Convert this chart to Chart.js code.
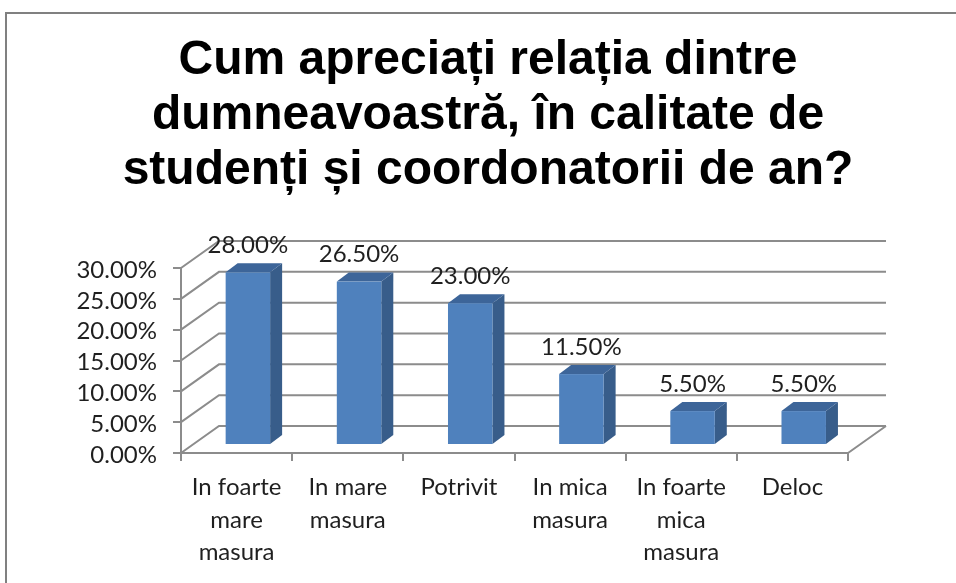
<!DOCTYPE html>
<html>
<head>
<meta charset="utf-8">
<script src="https://cdn.jsdelivr.net/npm/chart.js@4.4.1/dist/chart.umd.min.js"></script>
<style>
  html, body { margin: 0; padding: 0; background: #fff; }
  #wrap { width: 956px; height: 583px; }
</style>
</head>
<body>
<div id="wrap"><canvas id="chart"></canvas></div>
<script>
const titleLines = ['Cum apreciați relația dintre', 'dumneavoastră, în calitate de', 'studenți și coordonatorii de an?'];
const categories = [
  ['In foarte', 'mare', 'masura'],
  ['In mare', 'masura'],
  'Potrivit',
  ['In mica', 'masura'],
  ['In foarte', 'mica', 'masura'],
  'Deloc'
];
const values = [28.0, 26.5, 23.0, 11.5, 5.5, 5.5];
const yMin = 0, yMax = 30, yStep = 5;

const LINE = '#8c8c8c';
const TEXT = '#1f1f1f';
const FRONT = '#4f81bd', SIDE = '#385d8a', TOP = '#3d6599';

// 3d look: depth of the floor/back wall, and where the bars sit inside it
const WALL = { x: 38, y: -27 };
const SHIFT = { x: 11.3, y: -8 };
const BAR_DEPTH = { x: 12, y: -9 };

const pct = v => Number(v).toFixed(2) + '%';

const box3d = {
  id: 'box3d',
  beforeDraw(chart) {
    const ctx = chart.ctx;
    ctx.save();
    ctx.strokeStyle = '#808080';
    ctx.lineWidth = 2;
    ctx.strokeRect(6, 13, 1000, 700);
    ctx.restore();
  },
  beforeDatasetsDraw(chart) {
    const { ctx, chartArea: a, scales: { y } } = chart;
    ctx.save();
    ctx.strokeStyle = LINE;
    ctx.lineWidth = 2;
    ctx.beginPath();
    for (let v = yMin; v <= yMax; v += yStep) {
      const py = y.getPixelForValue(v);
      ctx.moveTo(a.left, py);
      ctx.lineTo(a.left + WALL.x, py + WALL.y);
      ctx.lineTo(a.right + WALL.x, py + WALL.y);
    }
    // right edge of the floor
    ctx.moveTo(a.right, a.bottom);
    ctx.lineTo(a.right + WALL.x, a.bottom + WALL.y);
    ctx.stroke();
    ctx.restore();
  },
  afterDatasetsDraw(chart) {
    const ctx = chart.ctx;
    const meta = chart.getDatasetMeta(0);
    ctx.save();
    meta.data.forEach((bar, i) => {
      const p = bar.getProps(['x', 'y', 'base', 'width'], true);
      const l = p.x - p.width / 2 + SHIFT.x, r = l + p.width;
      const t = p.y + SHIFT.y, b = p.base + SHIFT.y;
      ctx.fillStyle = SIDE;
      ctx.beginPath();
      ctx.moveTo(r, t); ctx.lineTo(r + BAR_DEPTH.x, t + BAR_DEPTH.y);
      ctx.lineTo(r + BAR_DEPTH.x, b + BAR_DEPTH.y); ctx.lineTo(r, b);
      ctx.closePath(); ctx.fill();
      ctx.fillStyle = TOP;
      ctx.beginPath();
      ctx.moveTo(l, t); ctx.lineTo(l + BAR_DEPTH.x, t + BAR_DEPTH.y);
      ctx.lineTo(r + BAR_DEPTH.x, t + BAR_DEPTH.y); ctx.lineTo(r, t);
      ctx.closePath(); ctx.fill();
      ctx.fillStyle = FRONT;
      ctx.fillRect(l, t, p.width, b - t);

      ctx.fillStyle = TEXT;
      ctx.font = '24px Lato';
      ctx.textAlign = 'center';
      ctx.textBaseline = 'alphabetic';
      ctx.fillText(pct(values[i]), p.x + SHIFT.x, t - 19.5);
    });
    ctx.restore();
  }
};

new Chart(document.getElementById('chart'), {
  type: 'bar',
  data: {
    labels: categories,
    datasets: [{
      data: values,
      backgroundColor: 'rgba(0,0,0,0)',
      borderWidth: 0,
      categoryPercentage: 1,
      barPercentage: 0.4
    }]
  },
  options: {
    responsive: true,
    maintainAspectRatio: false,
    animation: false,
    layout: { padding: { left: 20, right: 0, top: 13, bottom: 0 } },
    plugins: {
      legend: { display: false },
      tooltip: { enabled: false },
      title: {
        display: true,
        text: titleLines,
        color: '#000',
        font: { family: 'Liberation Sans', size: 48, weight: 'bold', lineHeight: 55 / 48 },
        padding: { top: 20.5, bottom: 69.5 }
      }
    },
    scales: {
      x: {
        grid: { drawOnChartArea: false, tickLength: 8, color: LINE, lineWidth: 2, offset: true },
        border: { color: LINE, width: 2 },
        ticks: {
          color: TEXT,
          font: { family: 'Lato', size: 24, lineHeight: 1.35 },
          padding: 10.5,
          maxRotation: 0,
          autoSkip: false
        },
        afterFit: s => { s.height = 130; }
      },
      y: {
        min: yMin,
        max: yMax,
        grid: { drawOnChartArea: false, tickLength: 8, color: LINE, lineWidth: 2 },
        border: { color: LINE, width: 2 },
        ticks: {
          stepSize: yStep,
          autoSkip: false,
          color: TEXT,
          font: { family: 'Lato', size: 24 },
          padding: 16,
          labelOffset: 2,
          callback: v => pct(v)
        },
        afterFit: s => { s.width = 161; }
      },
      spacer: {
        position: 'right',
        grid: { display: false },
        border: { display: false },
        ticks: { display: false },
        afterFit: s => { s.width = 108; }
      }
    }
  },
  plugins: [box3d]
});
</script>
</body>
</html>
